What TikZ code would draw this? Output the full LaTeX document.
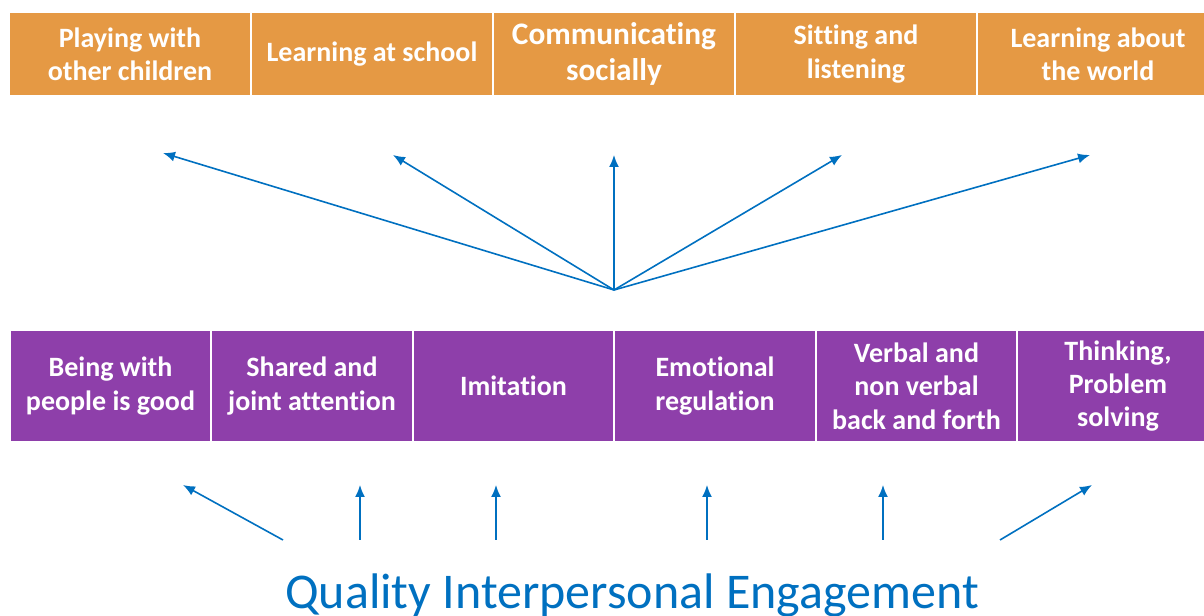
\documentclass[tikz,border=0pt]{standalone}
\usepackage{fontspec}
\setmainfont{Carlito}[Ligatures=NoCommon]
\usepackage{xcolor}
\usepackage{tikz}
\usetikzlibrary{arrows.meta}
\definecolor{outcomeorange}{RGB}{229,153,68}
\definecolor{skillpurple}{RGB}{142,63,170}
\definecolor{linkblue}{RGB}{0,112,192}
\tikzstyle{node:outcome}=[rectangle,draw=white,line width=1.2pt,fill=outcomeorange,minimum width=181.5pt,minimum height=62.5pt,align=center,text=white,font=\bfseries\fontsize{21}{25}\selectfont]
\tikzstyle{node:skill}=[rectangle,draw=white,line width=1.2pt,fill=skillpurple,minimum width=151pt,minimum height=84pt,align=center,text=white,font=\bfseries\fontsize{21}{25}\selectfont]
\tikzstyle{draw:connection}=[-{Latex[length=9pt,width=7.5pt]}, line width=1.2pt, linkblue]

\begin{document}
\begin{tikzpicture}[x=0.75pt,y=-0.75pt]
        \useasboundingbox (0,0) rectangle (1204,616);
        \clip (0,0) rectangle (1204,616);

        % Outcome row (5 boxes)
        \node[node:outcome] (T-1) at (130,54) {Playing with\\other children};
        \node[node:outcome] (T-2) at (372,54) {Learning at school};
        \node[node:outcome,inner sep=0pt,font=\bfseries\fontsize{23.5}{27}\selectfont] (T-3) at (614,54) {Communicating\\socially};
        \node[node:outcome] (T-4) at (856,54) {Sitting and\\listening};
        \node[node:outcome] (T-5) at (1098,54) {Learning about\\the world};

        % Skill row (6 boxes)
        \node[node:skill] (S-1) at (110.5,386) {Being with\\people is good};
        \node[node:skill] (S-2) at (312,386) {Shared and\\joint attention};
        \node[node:skill] (S-3) at (513.5,386) {Imitation};
        \node[node:skill] (S-4) at (715,386) {Emotional\\regulation};
        \node[node:skill] (S-5) at (916.5,386) {Verbal and\\non verbal\\back and forth};
        \node[node:skill] (S-6) at (1118,386) {Thinking,\\Problem\\solving};

        % Fan from the skill row up to the outcomes
        \coordinate (hub) at (614,290);
        \coordinate (U-1) at (163,153);
        \coordinate (U-2) at (393,155);
        \coordinate (U-3) at (614,155);
        \coordinate (U-4) at (842,155);
        \coordinate (U-5) at (1090,155);
        \foreach \i in {1,2,3,4,5} {
                \draw[draw:connection] (hub) -- (U-\i);
            }

        % Arrows from the engagement label up to the skills
        \coordinate (B-1) at (283,540);  \coordinate (A-1) at (183,485);
        \coordinate (B-2) at (360,540);  \coordinate (A-2) at (360,485);
        \coordinate (B-3) at (496,540);  \coordinate (A-3) at (496,485);
        \coordinate (B-4) at (707,540);  \coordinate (A-4) at (707,485);
        \coordinate (B-5) at (883,540);  \coordinate (A-5) at (883,485);
        \coordinate (B-6) at (1000,540); \coordinate (A-6) at (1092,485);
        \foreach \i in {1,...,6} {
                \draw[draw:connection] (B-\i) -- (A-\i);
            }

        % Label
        \node[anchor=base,text=linkblue,font=\fontsize{37.5}{45}\selectfont] (QIE) at (632,609) {Quality Interpersonal Engagement};

    \end{tikzpicture}
\end{document}
